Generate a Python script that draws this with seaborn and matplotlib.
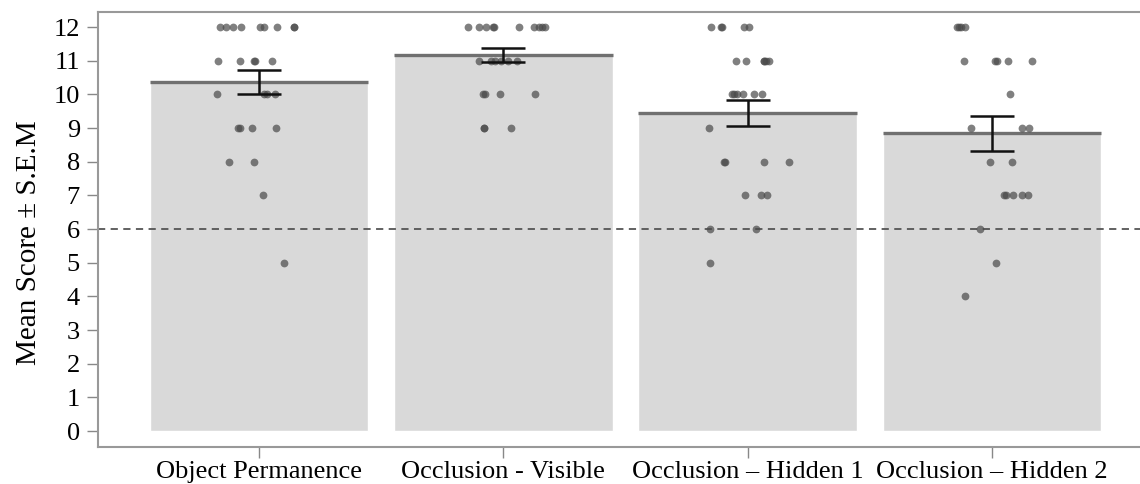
import numpy as np
import pandas as pd
import matplotlib
matplotlib.use("Agg")
import matplotlib.pyplot as plt
import seaborn as sns

categories = ["Object Permanence", "Occlusion - Visible", "Occlusion \u2013 Hidden 1", "Occlusion \u2013 Hidden 2"]
means = [10.37, 11.17, 9.45, 8.85]
sems = [0.35, 0.20, 0.40, 0.52]
chance_level = 6

op_scores = [12, 12, 12, 12, 12, 12, 12, 12, 12, 11, 11, 11, 11, 11, 10, 10, 10, 10, 9, 9, 9, 9, 8, 8, 7, 5]
ov_scores = [12, 12, 12, 12, 12, 12, 12, 12, 12, 12, 11, 11, 11, 11, 11, 11, 10, 10, 10, 10, 9, 9, 9]
h1_scores = [12, 12, 12, 12, 12, 11, 11, 11, 11, 11, 11, 10, 10, 10, 10, 10, 10, 9, 8, 8, 8, 8, 7, 7, 7, 6, 6, 5]
h2_scores = [12, 12, 12, 12, 11, 11, 11, 11, 11, 10, 9, 9, 9, 8, 8, 7, 7, 7, 7, 7, 6, 5, 4]
yticks = list(range(0, 13))
ylabel = "Mean Score \u00b1 S.E.M"

sns.set_theme(style="white")
plt.rcParams["font.family"] = ["Liberation Serif", "DejaVu Serif"]
plt.rcParams["text.color"] = "black"
plt.rcParams["axes.labelcolor"] = "black"
plt.rcParams["xtick.labelcolor"] = "black"
plt.rcParams["ytick.labelcolor"] = "black"

bars_df = pd.DataFrame({"condition": categories, "mean": means})
points_df = pd.DataFrame({
    "condition": sum([[c] * len(s) for c, s in zip(categories, [op_scores, ov_scores, h1_scores, h2_scores])], []),
    "score": op_scores + ov_scores + h1_scores + h2_scores,
})

fig = plt.figure(figsize=(11.4, 4.84), dpi=100)
ax = fig.add_axes([98 / 1140, 37 / 484, 1 - 98 / 1140 + 0.02, (447 - 12) / 484])

sns.barplot(data=bars_df, x="condition", y="mean", order=categories, color="#d9d9d9",
            saturation=1, width=0.895, errorbar=None, ax=ax, zorder=1)

# mean line on top of each bar
for p in ax.patches:
    ax.plot([p.get_x(), p.get_x() + p.get_width()], [p.get_height()] * 2,
            color="#707070", lw=2.4, solid_capstyle="butt", zorder=2)

ax.axhline(chance_level, color="#555555", lw=1.3, ls=(0, (4, 3)), zorder=2.5)

np.random.seed(3)
sns.stripplot(data=points_df, x="condition", y="score", order=categories, color="#4a4a4a",
              alpha=0.7, size=5.6, jitter=0.18, linewidth=0, ax=ax, zorder=3)

ax.errorbar(x=np.arange(len(categories)), y=means, yerr=sems, fmt="none", ecolor="#111111",
            elinewidth=1.8, capsize=16, capthick=1.8, zorder=4)

ax.set_xlim(-0.66, 3.62 + 0.08)
ax.set_ylim(-0.475, 12.45)
ax.set_yticks(yticks)
ax.set_yticklabels([str(t) for t in yticks], fontsize=19)
ax.set_xlabel("")
ax.set_ylabel(ylabel, fontsize=21)
ax.yaxis.set_label_coords(-0.053, 0.47)
ax.tick_params(axis="x", labelsize=19, length=8, color="#888888", width=1, direction="out", bottom=True, pad=2)
ax.tick_params(axis="y", length=8, color="#888888", width=1, direction="out", left=True, pad=5)

for side in ["left", "bottom", "top"]:
    ax.spines[side].set_visible(True)
    ax.spines[side].set_color("#999999")
    ax.spines[side].set_linewidth(1.5)
ax.spines["right"].set_visible(False)

fig.savefig("out.png", dpi=100)
